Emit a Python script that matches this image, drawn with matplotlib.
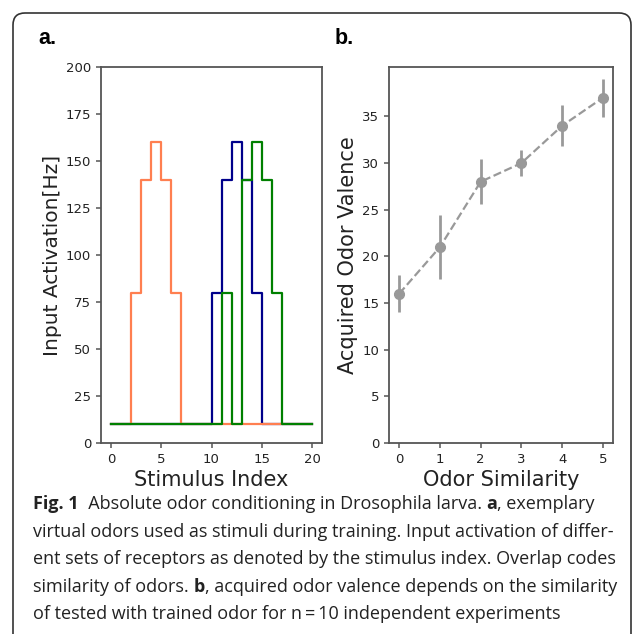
import matplotlib.pyplot as plt
import numpy as np
from matplotlib.patches import FancyBboxPatch
from matplotlib.transforms import IdentityTransform

# a: virtual odors (step profiles over stimulus index 0..20)
stim_idx = np.arange(21)
odor_orange = [10, 10, 80, 140, 160, 140, 80, 10, 10, 10, 10, 10, 10, 10, 10, 10, 10, 10, 10, 10, 10]
odor_blue = [10, 10, 10, 10, 10, 10, 10, 10, 10, 10, 80, 140, 160, 140, 80, 10, 10, 10, 10, 10, 10]
odor_green = [10, 10, 10, 10, 10, 10, 10, 10, 10, 10, 10, 80, 10, 140, 160, 140, 80, 10, 10, 10, 10]

# b: acquired valence vs similarity
similarity = [0, 1, 2, 3, 4, 5]
valence = [16, 21, 28, 30, 34, 37]
valence_err = [2.0, 3.4, 2.4, 1.4, 2.2, 2.05]

W, H = 632, 634
fig = plt.figure(figsize=(W / 100, H / 100), dpi=100)

# rounded frame of the figure box (cut at right/bottom)
frame = FancyBboxPatch((13, -40), 618, H - 13 + 40,
                       boxstyle="round,pad=0,rounding_size=12",
                       transform=IdentityTransform(), fill=False,
                       edgecolor="#333333", linewidth=1.2)
fig.add_artist(frame)

def px(x0, y0, x1, y1):
    return [x0 / W, 1 - y1 / H, (x1 - x0) / W, (y1 - y0) / H]

ax_a = fig.add_axes(px(101, 67, 322, 443))
ax_b = fig.add_axes(px(389, 67, 613, 443))

for ax in (ax_a, ax_b):
    for s in ax.spines.values():
        s.set_color("#555555")
        s.set_linewidth(1.3)
    ax.tick_params(colors="#555555", labelcolor="#222222", labelsize=9.5,
                   width=1.1, length=3.5)

ax_a.step(stim_idx, odor_blue, where="post", color="darkblue", lw=1.6)
ax_a.step(stim_idx, odor_orange, where="post", color="coral", lw=1.6)
ax_a.step(stim_idx, odor_green, where="post", color="green", lw=1.6)
ax_a.set_ylim(0, 200)
ax_a.set_xticks([0, 5, 10, 15, 20])
ax_a.set_yticks(range(0, 201, 25))
ax_a.set_xlabel("Stimulus Index", fontsize=15, color="#222222", labelpad=3)
ax_a.set_ylabel("Input Activation[Hz]", fontsize=14.5, color="#222222", labelpad=3)

ax_b.errorbar(similarity, valence, yerr=valence_err, fmt="o--", color="#999999",
              ecolor="#999999", elinewidth=2.0, lw=1.6, markersize=7)
ax_b.set_ylim(0, 40.3)
ax_b.set_xticks(similarity)
ax_b.set_yticks(range(0, 36, 5))
ax_b.set_xlabel("Odor Similarity", fontsize=15, color="#222222", labelpad=3)
ax_b.set_ylabel("Acquired Odor Valence", fontsize=15, color="#222222", labelpad=3)

fig.text(38 / W, 1 - 44 / H, "a.", fontsize=15.5, fontweight="bold",
         family="Liberation Sans", va="baseline")
fig.text(335 / W, 1 - 44 / H, "b.", fontsize=15.5, fontweight="bold",
         family="Liberation Sans", va="baseline")

# caption with bold runs
caption = [
    [("Fig. 1", "bold"), ("  Absolute odor conditioning in Drosophila larva. ", "normal"),
     ("a", "bold"), (", exemplary", "normal")],
    [("virtual odors used as stimuli during training. Input activation of differ-", "normal")],
    [("ent sets of receptors as denoted by the stimulus index. Overlap codes", "normal")],
    [("similarity of odors. ", "normal"), ("b", "bold"),
     (", acquired odor valence depends on the similarity", "normal")],
    [("of tested with trained odor for n\u2009=\u200910 independent experiments", "normal")],
]
baselines = [509, 537, 564, 592, 619]
renderer = fig.canvas.get_renderer()
for parts, yb in zip(caption, baselines):
    x = 33
    for s, w in parts:
        t = fig.text(x / W, 1 - yb / H, s, fontsize=13, fontweight=w,
                     family=["Open Sans", "DejaVu Sans"], va="baseline",
                     color="#222222")
        x += t.get_window_extent(renderer).width

fig.savefig("out.png", dpi=100)
